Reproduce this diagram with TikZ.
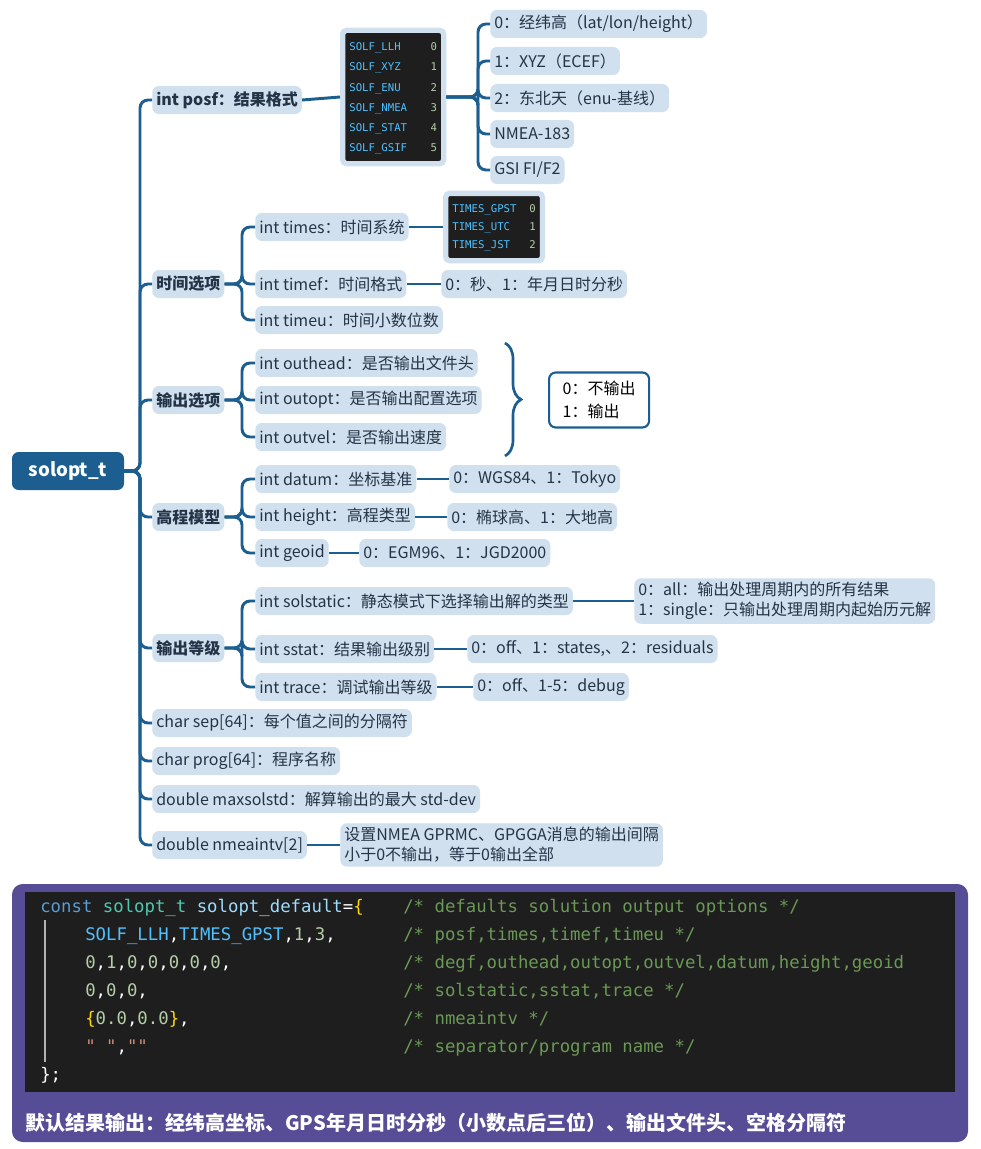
\documentclass[tikz,border=0pt]{standalone}
\usepackage{fontspec}
\setmainfont{Noto Sans CJK SC}
\setmonofont{DejaVu Sans Mono}
\usetikzlibrary{decorations.pathreplacing}
\definecolor{br}{HTML}{1B5E8F}
\definecolor{leafbg}{HTML}{D0E0EE}
\definecolor{txt}{HTML}{243447}
\definecolor{codebg}{HTML}{1E1E1E}
\definecolor{kw}{HTML}{569CD6}
\definecolor{ty}{HTML}{4EC9B0}
\definecolor{var}{HTML}{9CDCFE}
\definecolor{cst}{HTML}{4FC1FF}
\definecolor{num}{HTML}{B5CEA8}
\definecolor{cmt}{HTML}{6A9955}
\definecolor{str}{HTML}{CE9178}
\definecolor{brc}{HTML}{FFD700}
\definecolor{purp}{HTML}{574D96}
\begin{document}
\begin{tikzpicture}[x=0.75pt,y=-0.75pt,
  leaf/.style={fill=leafbg,rounded corners=5pt,text=txt,font=\fontsize{12}{14}\selectfont,inner xsep=3pt,inner ysep=3pt,minimum height=28*0.75pt,anchor=west},
  l1/.style={leaf,font=\fontsize{12}{14}\selectfont\bfseries},
  ln/.style={draw=br,line width=2.2pt,rounded corners=6pt},
  codebox/.style={fill=codebg,draw=leafbg,line width=4pt,rounded corners=3pt,inner sep=5pt,anchor=west},
  cl/.style={anchor=base west,inner sep=0pt,font=\fontsize{13}{15}\selectfont\ttfamily}]
\useasboundingbox (0,0) rectangle (981,1149);
\fill[white] (0,0) rectangle (981,1149);
% root
\node[fill=br,text=white,rounded corners=5pt,font=\fontsize{14}{16}\selectfont\bfseries,minimum width=112*0.75pt,minimum height=38*0.75pt] (root) at (68,471) {solopt\_t};
% level 1
\node[l1] (posf) at (152,100) {int posf：结果格式};
\node[l1] (time) at (152,284) {时间选项};
\node[l1] (outo) at (152,400) {输出选项};
\node[l1] (hgt) at (152,517) {高程模型};
\node[l1] (lev) at (152,648) {输出等级};
\node[leaf] (sep) at (152,723) {char sep[64]：每个值之间的分隔符};
\node[leaf] (prog) at (152,761) {char prog[64]：程序名称};
\node[leaf] (maxs) at (152,799) {double maxsolstd：解算输出的最大 std-dev};
\node[leaf] (nmea) at (152,845) {double nmeaintv[2]};
\foreach \c in {posf,time,outo,hgt,lev,sep,prog,maxs,nmea}
  \draw[ln] (root.east) -- (140,471) |- (\c.west);
% posf
\node[codebox] (solf) at (340,97) {\fontsize{8}{15}\selectfont\ttfamily
  \begin{tabular}{@{}l@{\hspace{2.2em}}r@{}}
  \color{cst}SOLF\_LLH & \color{num}0\\
  \color{cst}SOLF\_XYZ & \color{num}1\\
  \color{cst}SOLF\_ENU & \color{num}2\\
  \color{cst}SOLF\_NMEA & \color{num}3\\
  \color{cst}SOLF\_STAT & \color{num}4\\
  \color{cst}SOLF\_GSIF & \color{num}5
  \end{tabular}};
\draw[ln] (posf.east) -- (solf.west);
\node[leaf] (p0) at (490,24) {0：经纬高（lat/lon/height）};
\node[leaf] (p1) at (490,61) {1：XYZ（ECEF）};
\node[leaf] (p2) at (490,98) {2：东北天（enu-基线）};
\node[leaf] (p3) at (490,134) {NMEA-183};
\node[leaf] (p4) at (490,170) {GSI FI/F2};
\foreach \c in {p0,p1,p2,p3,p4}
  \draw[ln] (solf.east) -- (478,97) |- (\c.west);
% time
\node[leaf] (times) at (255,227) {int times：时间系统};
\node[leaf] (timef) at (255,284) {int timef：时间格式};
\node[leaf] (timeu) at (255,320) {int timeu：时间小数位数};
\foreach \c in {times,timef,timeu}
  \draw[ln] (time.east) -- (242,284) |- (\c.west);
\node[codebox] (tbox) at (443,227) {\fontsize{8}{13.5}\selectfont\ttfamily
  \begin{tabular}{@{}l@{\hspace{1.2em}}r@{}}
  \color{cst}TIMES\_GPST & \color{num}0\\
  \color{cst}TIMES\_UTC & \color{num}1\\
  \color{cst}TIMES\_JST & \color{num}2
  \end{tabular}};
\draw[ln] (times.east) -- (tbox.west);
\node[leaf] (tf) at (441,284) {0：秒、1：年月日时分秒};
\draw[ln] (timef.east) -- (tf.west);
% output options
\node[leaf] (oh) at (255,363) {int outhead：是否输出文件头};
\node[leaf] (op) at (255,400) {int outopt：是否输出配置选项};
\node[leaf] (ov) at (255,437) {int outvel：是否输出速度};
\foreach \c in {oh,op,ov}
  \draw[ln] (outo.east) -- (242,400) |- (\c.west);
\draw[br,line width=2pt,decorate,decoration={brace,amplitude=12pt}] (505,343) -- (505,456);
\node[draw=br,line width=1.6pt,fill=white,rounded corners=5pt,align=left,text=black,font=\fontsize{12}{17}\selectfont,inner sep=4pt,minimum width=100*0.75pt,minimum height=55*0.75pt,anchor=west] (ob) at (548,400) {0：不输出\\1：输出};
% height
\node[leaf] (dat) at (255,479) {int datum：坐标基准};
\node[leaf] (hh) at (255,517) {int height：高程类型};
\node[leaf] (geo) at (255,553) {int geoid};
\foreach \c in {dat,hh,geo}
  \draw[ln] (hgt.east) -- (242,517) |- (\c.west);
\node[leaf] (dat2) at (449,479) {0：WGS84、1：Tokyo};
\node[leaf] (hh2) at (447,517) {0：椭球高、1：大地高};
\node[leaf] (geo2) at (359,553) {0：EGM96、1：JGD2000};
\draw[ln] (dat.east) -- (dat2.west);
\draw[ln] (hh.east) -- (hh2.west);
\draw[ln] (geo.east) -- (geo2.west);
% levels
\node[leaf] (ss) at (255,601) {int solstatic：静态模式下选择输出解的类型};
\node[leaf] (st) at (255,649) {int sstat：结果输出级别};
\node[leaf] (tr) at (255,687) {int trace：调试输出等级};
\foreach \c in {ss,st,tr}
  \draw[ln] (lev.east) -- (242,648) |- (\c.west);
\node[leaf,align=left,font=\fontsize{12}{15}\selectfont] (ss2) at (634,601) {0：all：输出处理周期内的所有结果\\1：single：只输出处理周期内起始历元解};
\node[leaf] (st2) at (467,649) {0：off、1：states,、2：residuals};
\node[leaf] (tr2) at (473,687) {0：off、1-5：debug};
\draw[ln] (ss.east) -- (ss2.west);
\draw[ln] (st.east) -- (st2.west);
\draw[ln] (tr.east) -- (tr2.west);
\node[leaf,align=left,font=\fontsize{12}{15}\selectfont] (nm2) at (340,845) {设置NMEA GPRMC、GPGGA消息的输出间隔\\小于0不输出，等于0输出全部};
\draw[ln] (nmea.east) -- (nm2.west);
% bottom code panel
\fill[purp,rounded corners=8pt] (12,884) rectangle (968,1142);
\fill[codebg] (25,892) rectangle (955,1092);
\draw[gray!60,line width=0.8pt] (45,920) -- (45,1062);
\node[cl] (c1) at (40,912) {\color{kw}const \color{ty}solopt\_t \color{var}solopt\_default\color{white}=\color{brc}\{};
\node[cl] (c2) at (85,940) {\color{cst}SOLF\_LLH\color{white},\color{cst}TIMES\_GPST\color{white},\color{num}1\color{white},\color{num}3\color{white},};
\node[cl] (c3) at (85,968) {\color{num}0\color{white},\color{num}1\color{white},\color{num}0\color{white},\color{num}0\color{white},\color{num}0\color{white},\color{num}0\color{white},\color{num}0\color{white},};
\node[cl] (c4) at (85,996) {\color{num}0\color{white},\color{num}0\color{white},\color{num}0\color{white},};
\node[cl] (c5) at (85,1024) {\color{brc}\{\color{num}0.0\color{white},\color{num}0.0\color{brc}\}\color{white},};
\node[cl] (c6) at (85,1052) {\color{str}" "\color{white},\color{str}""};
\node[cl] (c7) at (40,1080) {\color{white}\};};
\node[cl,text=cmt] (m1) at (403,912) {/* defaults solution output options */};
\node[cl,text=cmt] (m2) at (403,940) {/* posf,times,timef,timeu */};
\node[cl,text=cmt] (m3) at (403,968) {/* degf,outhead,outopt,outvel,datum,height,geoid};
\node[cl,text=cmt] (m4) at (403,996) {/* solstatic,sstat,trace */};
\node[cl,text=cmt] (m5) at (403,1024) {/* nmeaintv */};
\node[cl,text=cmt] (m6) at (403,1052) {/* separator/program name */};
\node[anchor=west,text=white,font=\fontsize{15}{17}\selectfont\bfseries,inner sep=0pt] (cap) at (25,1123) {默认结果输出：经纬高坐标、GPS年月日时分秒（小数点后三位）、输出文件头、空格分隔符};
\end{tikzpicture}
\end{document}
